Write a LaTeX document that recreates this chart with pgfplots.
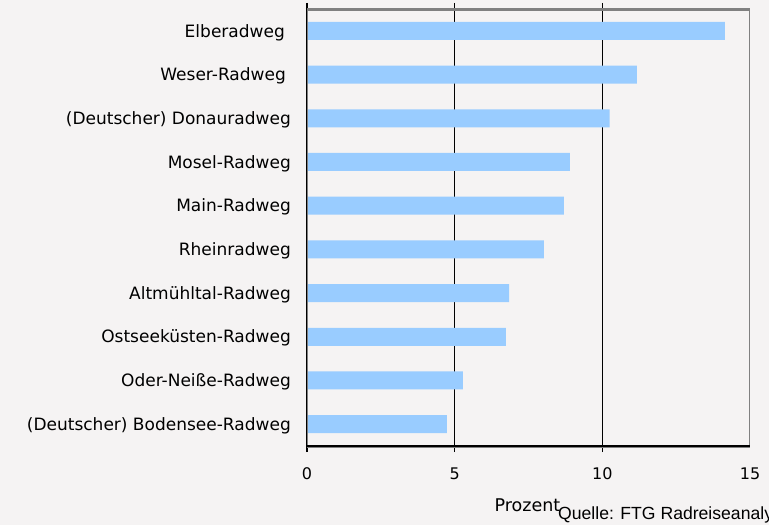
\documentclass[border=0pt]{standalone}
\usepackage{fontspec}
\setmainfont{DejaVu Sans}
\newfontfamily\arialfont{Liberation Sans}
\usepackage{pgfplots}
\pgfplotsset{compat=1.18}
\definecolor{bg}{HTML}{F5F3F3}
\definecolor{barblue}{HTML}{99CCFF}
\definecolor{framegrey}{HTML}{808080}
\begin{document}
\fontsize{17bp}{20bp}\selectfont
\begin{tikzpicture}[x=1bp,y=1bp]
\fill[bg] (0,0) rectangle (769,-525);
\begin{scope}
\clip (0,0) rectangle (769,-525);
% grid lines behind the bars (picture coordinates: 0 -> 307, 15 -> 750)
\draw[black, line width=1.5bp] (454.7,-9) -- (454.7,-446);
\draw[black, line width=1.5bp] (602.3,-9) -- (602.3,-446);
\begin{axis}[
  at={(307bp,-446bp)}, anchor=south west,
  scale only axis, width=443bp, height=437bp,
  xmin=0, xmax=15, ymin=-0.5, ymax=9.5, y dir=reverse,
  axis line style={draw=none},
  xbar, bar width=18bp,
  xtick={0,5,10},
  extra x ticks={15},
  extra x tick style={tick style={draw=none}},
  /pgf/number format/assume math mode=true,
  xticklabel style={font=\fontsize{16bp}{18bp}\selectfont, anchor=base, inner sep=0pt, yshift=-27bp},
  tick align=outside,
  major tick length=6bp,
  minor tick length=5bp,
  tick style={black, line width=1.5bp},
  ytick={0,...,9},
  yticklabels={Elberadweg\kern6bp,Weser-Radweg\kern5bp,(Deutscher) Donauradweg,Mosel-Radweg,Main-Radweg,Rheinradweg,Altmühltal-Radweg,Ostseeküsten-Radweg,Oder-Neiße-Radweg,(Deutscher) Bodensee-Radweg},
  ytick style={draw=none},
  minor ytick={-0.5,0.5,...,9.5},
  minor tick style={black, line width=1.5bp},
  yticklabel style={anchor=base east, inner sep=0pt, xshift=-10bp, yshift=-6.2bp},
  clip=false,
]
\addplot[fill=barblue, draw=none] coordinates {
(14.15,0) (11.17,1) (10.25,2) (8.90,3) (8.70,4) (8.02,5) (6.84,6) (6.73,7) (5.28,8) (4.74,9)};
\end{axis}
% frame
\draw[framegrey, line width=1bp] (749.5,-9) -- (749.5,-446);
\draw[framegrey, line width=3bp] (305.5,-9.5) -- (750,-9.5);
\draw[black, line width=1.2bp] (306.2,-8) -- (306.2,-446);
\draw[framegrey, line width=1bp] (307.4,-11) -- (307.4,-445);
\draw[black, line width=1.5bp] (306,-445.8) -- (750,-445.8);
\draw[framegrey, line width=1bp] (307,-447.2) -- (750,-447.2);
\node[anchor=base, inner sep=0pt, font=\fontsize{17.5bp}{20bp}\selectfont] at (527.5,-511) {Prozent};
\node[anchor=base west, inner sep=0pt, font=\arialfont\fontsize{17.6bp}{20bp}\selectfont] at (558,-519) {Quelle: FTG Radreiseanalyse 2011};
\end{scope}
\pgfresetboundingbox
\useasboundingbox (0,0) rectangle (769,-525);
\end{tikzpicture}
\end{document}
